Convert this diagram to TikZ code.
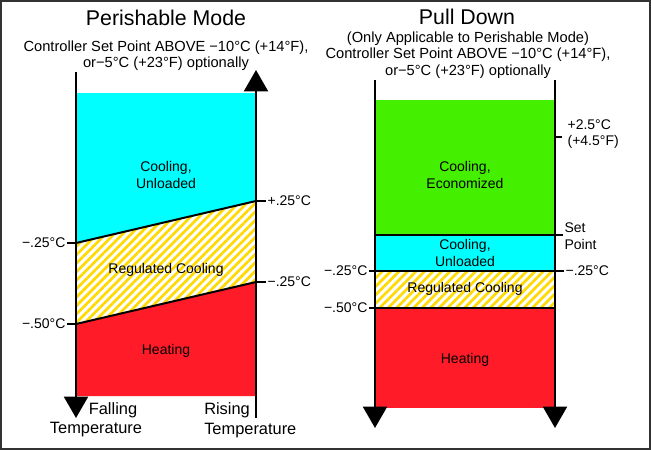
\documentclass[tikz,border=0pt]{standalone}
\usepackage{fontspec}
\setmainfont{Liberation Sans}
\usetikzlibrary{arrows.meta, patterns.meta, positioning}
\definecolor{coolCyan}{RGB}{0,255,255}
\definecolor{econGreen}{RGB}{68,240,0}
\definecolor{heatRed}{RGB}{255,28,40}
\definecolor{regYellow}{RGB}{255,218,0}
\definecolor{frameGray}{RGB}{50,50,50}
\tikzset{
    title/.style={font=\fontsize{16}{19}\selectfont, inner sep=0pt},
    note/.style={font=\fontsize{11}{12.2}\selectfont, align=center, inner sep=0pt},
    region/.style={font=\fontsize{10.5}{12.5}\selectfont, align=center},
    tlab/.style={font=\fontsize{10.5}{12.5}\selectfont, inner sep=1pt, align=left},
    blab/.style={font=\fontsize{12.3}{15}\selectfont, inner sep=0pt},
    axis/.style={line width=1.5pt, -{Triangle[length=16pt,width=18pt]}},
    bound/.style={line width=1.5pt},
    thinbound/.style={line width=0.8pt},
    tick/.style={line width=0.8pt},
    hatch/.style={pattern={Lines[angle=45,distance=4.5pt,line width=2pt]}, pattern color=regYellow},
    frame/.style={draw=frameGray, line width=1.5pt}
}
\begin{document}
\begin{tikzpicture}[x=0.75pt, y=-0.75pt]
    \useasboundingbox (0,0) rectangle (651,450);
    \draw[frame] (1,1) rectangle (650,449);

    % perishable mode
    \coordinate (pmA) at (76,243);
    \coordinate (pmB) at (256,201);
    \coordinate (pmC) at (76,324);
    \coordinate (pmD) at (256,282);
    \fill[coolCyan] (76,93) -- (256,93) -- (pmB) -- (pmA) -- cycle;
    \fill[white] (pmA) -- (pmB) -- (pmD) -- (pmC) -- cycle;
    \fill[hatch] (pmA) -- (pmB) -- (pmD) -- (pmC) -- cycle;
    \fill[heatRed] (pmC) -- (pmD) -- (256,396) -- (76,396) -- cycle;
    \draw[bound] (pmA) -- (pmB);
    \draw[bound] (pmC) -- (pmD);
    \coordinate (pmLtop) at (76,72);
    \coordinate (pmLbot) at (76,418);
    \coordinate (pmRbot) at (256,418);
    \coordinate (pmRtop) at (256,70);
    \draw[axis] (pmLtop) -- (pmLbot);
    \draw[axis] (pmRbot) -- (pmRtop);

    \node[title] (pmTitle) at (166,18) {Perishable Mode};
    \node[note] (pmNote) at (166,56) {Controller Set Point ABOVE −10°C (+14°F),\\or−5°C (+23°F) optionally};
    \node[region] (pmCool) at (166,175) {Cooling,\\Unloaded};
    \node[region] (pmReg) at (166,270) {Regulated Cooling};
    \node[region] (pmHeat) at (166,351) {Heating};

    \node[tlab, anchor=west] (pmHiR) at (266,201) {+.25°C};
    \node[tlab, anchor=west] (pmLoR) at (266,282) {−.25°C};
    \node[tlab, anchor=east] (pmHiL) at (67,243) {−.25°C};
    \node[tlab, anchor=east] (pmLoL) at (67,324) {−.50°C};
    \draw[tick] (pmB) -- (pmB -| pmHiR.west);
    \draw[tick] (pmD) -- (pmD -| pmLoR.west);
    \draw[tick] (pmA) -- (pmA -| pmHiL.east);
    \draw[tick] (pmC) -- (pmC -| pmLoL.east);

    \node[blab] (pmFall) at (113,410) {Falling};
    \node[blab] (pmFallT) at (96,430) {Temperature};
    \node[blab, align=left, anchor=west] (pmRise) at (204,420) {Rising\\Temperature};

    % pull down
    \coordinate (pdA) at (375,235);
    \coordinate (pdB) at (555,235);
    \coordinate (pdC) at (375,271);
    \coordinate (pdD) at (555,271);
    \coordinate (pdE) at (375,308);
    \coordinate (pdF) at (555,308);
    \coordinate (pdW) at (555,137);
    \fill[econGreen] (375,100) rectangle (pdB);
    \fill[coolCyan] (pdA) rectangle (pdD);
    \fill[white] (pdC) rectangle (pdF);
    \fill[hatch] (pdC) rectangle (pdF);
    \fill[heatRed] (pdE) rectangle (555,408);
    \draw[thinbound] (pdA) -- (pdB);
    \draw[thinbound] (pdC) -- (pdD);
    \draw[thinbound] (pdE) -- (pdF);
    \coordinate (pdLtop) at (375,80);
    \coordinate (pdLbot) at (375,428);
    \coordinate (pdRtop) at (555,80);
    \coordinate (pdRbot) at (555,428);
    \draw[axis] (pdLtop) -- (pdLbot);
    \draw[axis] (pdRtop) -- (pdRbot);

    \node[title] (pdTitle) at (467,17) {Pull Down};
    \node[note] (pdNote) at (468,55) {(Only Applicable to Perishable Mode)\\Controller Set Point ABOVE −10°C (+14°F),\\or−5°C (+23°F) optionally};
    \node[region] (pdEcon) at (465,175) {Cooling,\\Economized};
    \node[region] (pdCool) at (465,253) {Cooling,\\Unloaded};
    \node[region] (pdReg) at (465,289) {Regulated Cooling};
    \node[region] (pdHeat) at (465,360) {Heating};

    \node[tlab, anchor=west] (pdWarm) at (566,134) {+2.5°C\\(+4.5°F)};
    \node[tlab, anchor=west] (pdSet) at (563,236) {Set\\Point};
    \node[tlab, anchor=west] (pdLoR) at (564,271) {−.25°C};
    \node[tlab, anchor=east] (pdLoL) at (369,271) {−.25°C};
    \node[tlab, anchor=east] (pdBotL) at (369,308) {−.50°C};
    \draw[tick] (pdW) -- ++(7,0);
    \draw[tick] (pdB) -- (pdB -| pdSet.west);
    \draw[tick] (pdD) -- (pdD -| pdLoR.west);
    \draw[tick] (pdC) -- (pdC -| pdLoL.east);
    \draw[tick] (pdE) -- (pdE -| pdBotL.east);
\end{tikzpicture}
\end{document}
